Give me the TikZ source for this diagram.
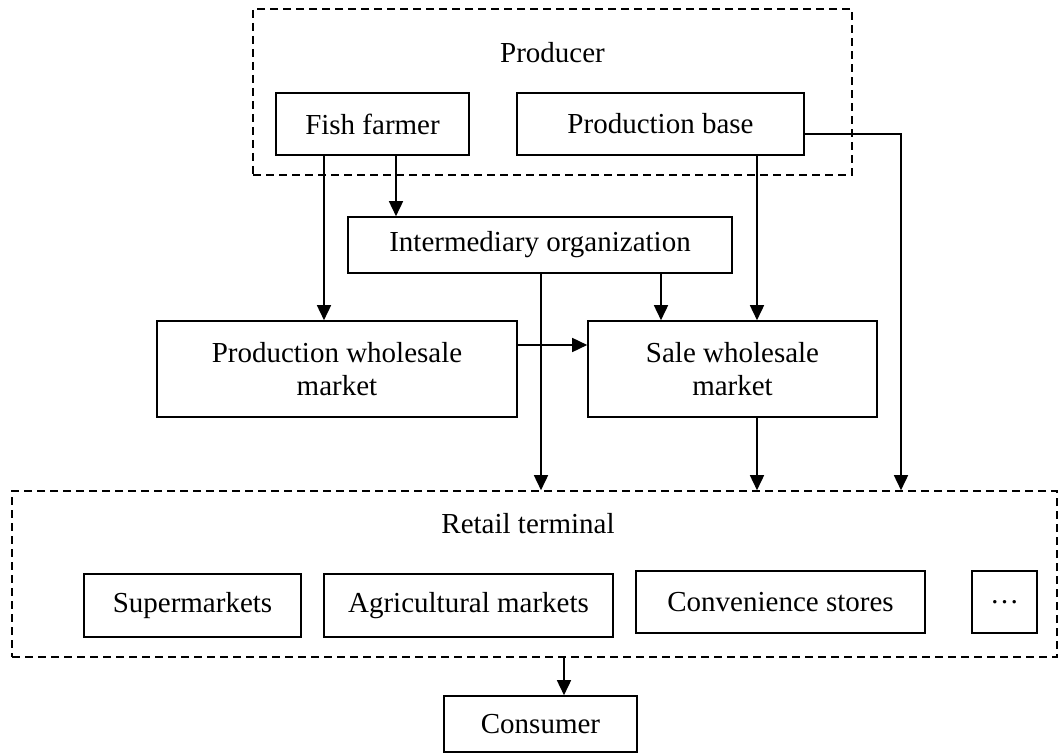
\documentclass[tikz,border=0pt]{standalone}
\usepackage{fontspec}
\setmainfont{Liberation Serif}
\usetikzlibrary{arrows.meta}
\begin{document}
\begin{tikzpicture}[x=1pt,y=-1pt,
  box/.style={draw, line width=1.6pt, inner sep=0pt, font=\fontsize{29}{33}\selectfont, align=center},
  dbox/.style={draw, line width=1.6pt, dash pattern=on 8pt off 5pt, inner sep=0pt},
  lbl/.style={font=\fontsize{29}{33}\selectfont, inner sep=0pt, anchor=base},
  arr/.style={line width=1.6pt, -{Triangle[length=15pt,width=14pt]}}]
\useasboundingbox (0,0) rectangle (1060,754);
% groups
\node[dbox, minimum width=599pt, minimum height=166pt] (producer) at (552.5,92) {};
\node[lbl] (prodlbl) at (552.5,63) {Producer};
\node[dbox, minimum width=1045pt, minimum height=166pt] (retail) at (534.5,574) {};
\node[lbl] (retlbl) at (528,533) {Retail terminal};
% boxes
\node[box, minimum width=193pt, minimum height=62pt] (fish) at (372.5,124) {Fish farmer};
\node[box, minimum width=287pt, minimum height=62pt] (pbase) at (660.5,124) {Production base};
\node[box, minimum width=384pt, minimum height=56pt] (inter) at (540,245) {Intermediary organization};
\node[box, minimum width=360pt, minimum height=96pt] (pw) at (337,369) {Production wholesale\\market};
\node[box, minimum width=289pt, minimum height=96pt] (sw) at (732.5,369) {Sale wholesale\\market};
\node[box, minimum width=217pt, minimum height=63pt] (super) at (192.5,605.5) {Supermarkets};
\node[box, minimum width=289pt, minimum height=63pt] (agri) at (468.5,605.5) {Agricultural markets};
\node[box, minimum width=289pt, minimum height=62pt] (conv) at (780.5,602) {Convenience stores};
\node[box, minimum width=65pt, minimum height=62pt] (dots) at (1004.5,602) {\dots};
\node[box, minimum width=193pt, minimum height=56pt] (cons) at (540.5,724) {Consumer};
% connectors
\draw[arr] (324,0 |- fish.south) -- (324,0 |- pw.north);
\draw[arr] (396,0 |- fish.south) -- (396,0 |- inter.north);
\draw[arr] (757,0 |- pbase.south) -- (757,0 |- sw.north);
\draw[arr] ([yshift=-10pt]pbase.east) -| (901,0 |- retail.north);
\draw[arr] (541,0 |- inter.south) -- (541,0 |- retail.north);
\draw[arr] (661,0 |- inter.south) -- (661,0 |- sw.north);
\draw[arr] (pw.east |- 0,345) -- (sw.west |- 0,345);
\draw[arr] (757,0 |- sw.south) -- (757,0 |- retail.north);
\draw[arr] (564,0 |- retail.south) -- (564,0 |- cons.north);
\end{tikzpicture}
\end{document}
